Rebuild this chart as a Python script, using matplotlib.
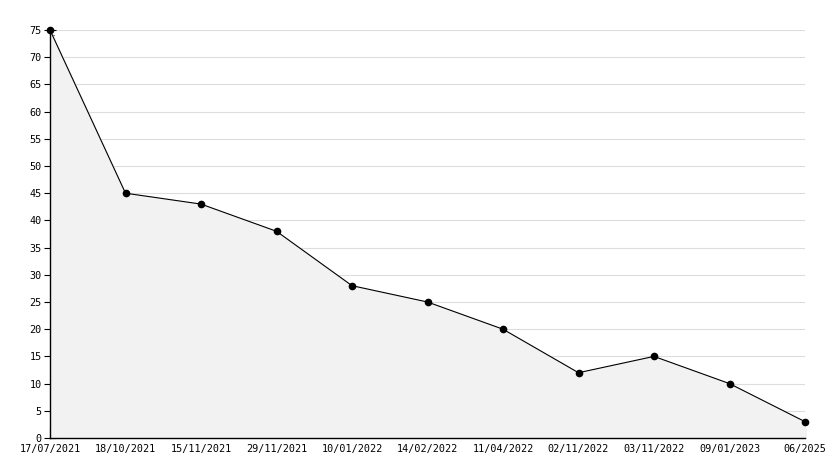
import matplotlib.pyplot as plt
from matplotlib.ticker import MultipleLocator

# Data
dates = ['17/07/2021', '18/10/2021', '15/11/2021', '29/11/2021', '10/01/2022',
         '14/02/2022', '11/04/2022', '02/11/2022', '03/11/2022', '09/01/2023', '06/2025']
values = [75, 45, 43, 38, 28, 25, 20, 12, 15, 10, 3]

plt.rcParams['font.family'] = ['DejaVu Sans Mono']

fig = plt.figure(figsize=(8.34, 4.68), dpi=100)
ax = fig.add_axes([50 / 834, 1 - 438 / 468, 755 / 834, 408 / 468])

x = list(range(len(dates)))
ax.fill_between(x, values, 0, color='#f2f2f2', zorder=1)
ax.plot(x, values, color='black', linewidth=0.8, marker='o', markersize=4.5,
        zorder=3, clip_on=False)

ax.set_xlim(0, len(dates) - 1)
ax.set_ylim(0, 75)
ax.set_xticks(x)
ax.set_xticklabels(dates)
ax.yaxis.set_major_locator(MultipleLocator(5))
ax.yaxis.set_minor_locator(MultipleLocator(1))

# Grid lines every 5
ax.grid(axis='y', which='major', color='#dddddd', linewidth=0.8, zorder=0)
ax.set_axisbelow(True)

for side in ['top', 'right']:
    ax.spines[side].set_visible(False)
ax.spines['left'].set_linewidth(1.0)
ax.spines['bottom'].set_linewidth(1.0)

ax.tick_params(axis='y', which='major', direction='inout', length=8, width=0.8, labelsize=7.3, pad=2)
ax.tick_params(axis='y', which='minor', direction='in', length=3, width=0.8)
ax.tick_params(axis='x', which='major', direction='in', length=7, width=0.8, labelsize=7.3, pad=4)

fig.savefig('out.png', dpi=100)
